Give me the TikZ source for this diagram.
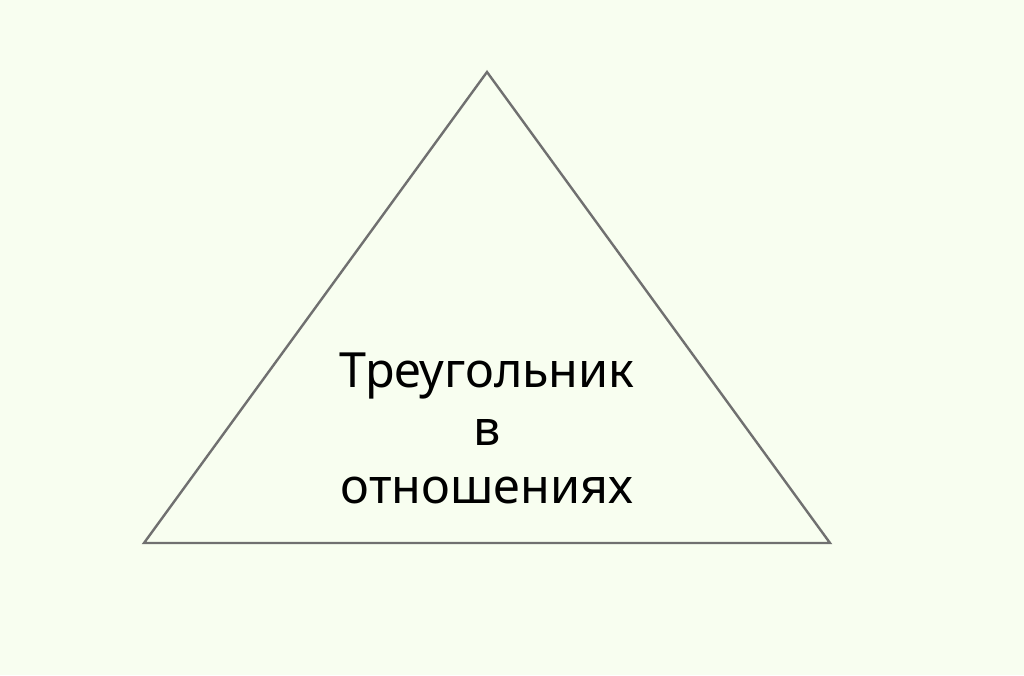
\documentclass[tikz,border=0pt]{standalone}
\usepackage{fontspec}
\setmainfont{Noto Sans}
\definecolor{bgc}{HTML}{F8FEF0}
\definecolor{edgec}{HTML}{707070}
\begin{document}
\begin{tikzpicture}[x=1pt,y=-1pt,
  tri/.style={draw=edgec,line width=2.4pt,line join=miter},
  lbl/.style={align=center,font=\fontsize{48.5}{58}\selectfont,text=black,inner sep=0pt}]
\fill[bgc] (0,0) rectangle (1024,675);
\useasboundingbox (0,0) rectangle (1024,675);
\coordinate (A) at (487,72);
\coordinate (B) at (144,543);
\coordinate (C) at (830,543);
\draw[tri] (A) -- (B) -- (C) -- cycle;
\node[lbl,anchor=base] (t) at (487,503) {Треугольник\\в\\отношениях};
\end{tikzpicture}
\end{document}
